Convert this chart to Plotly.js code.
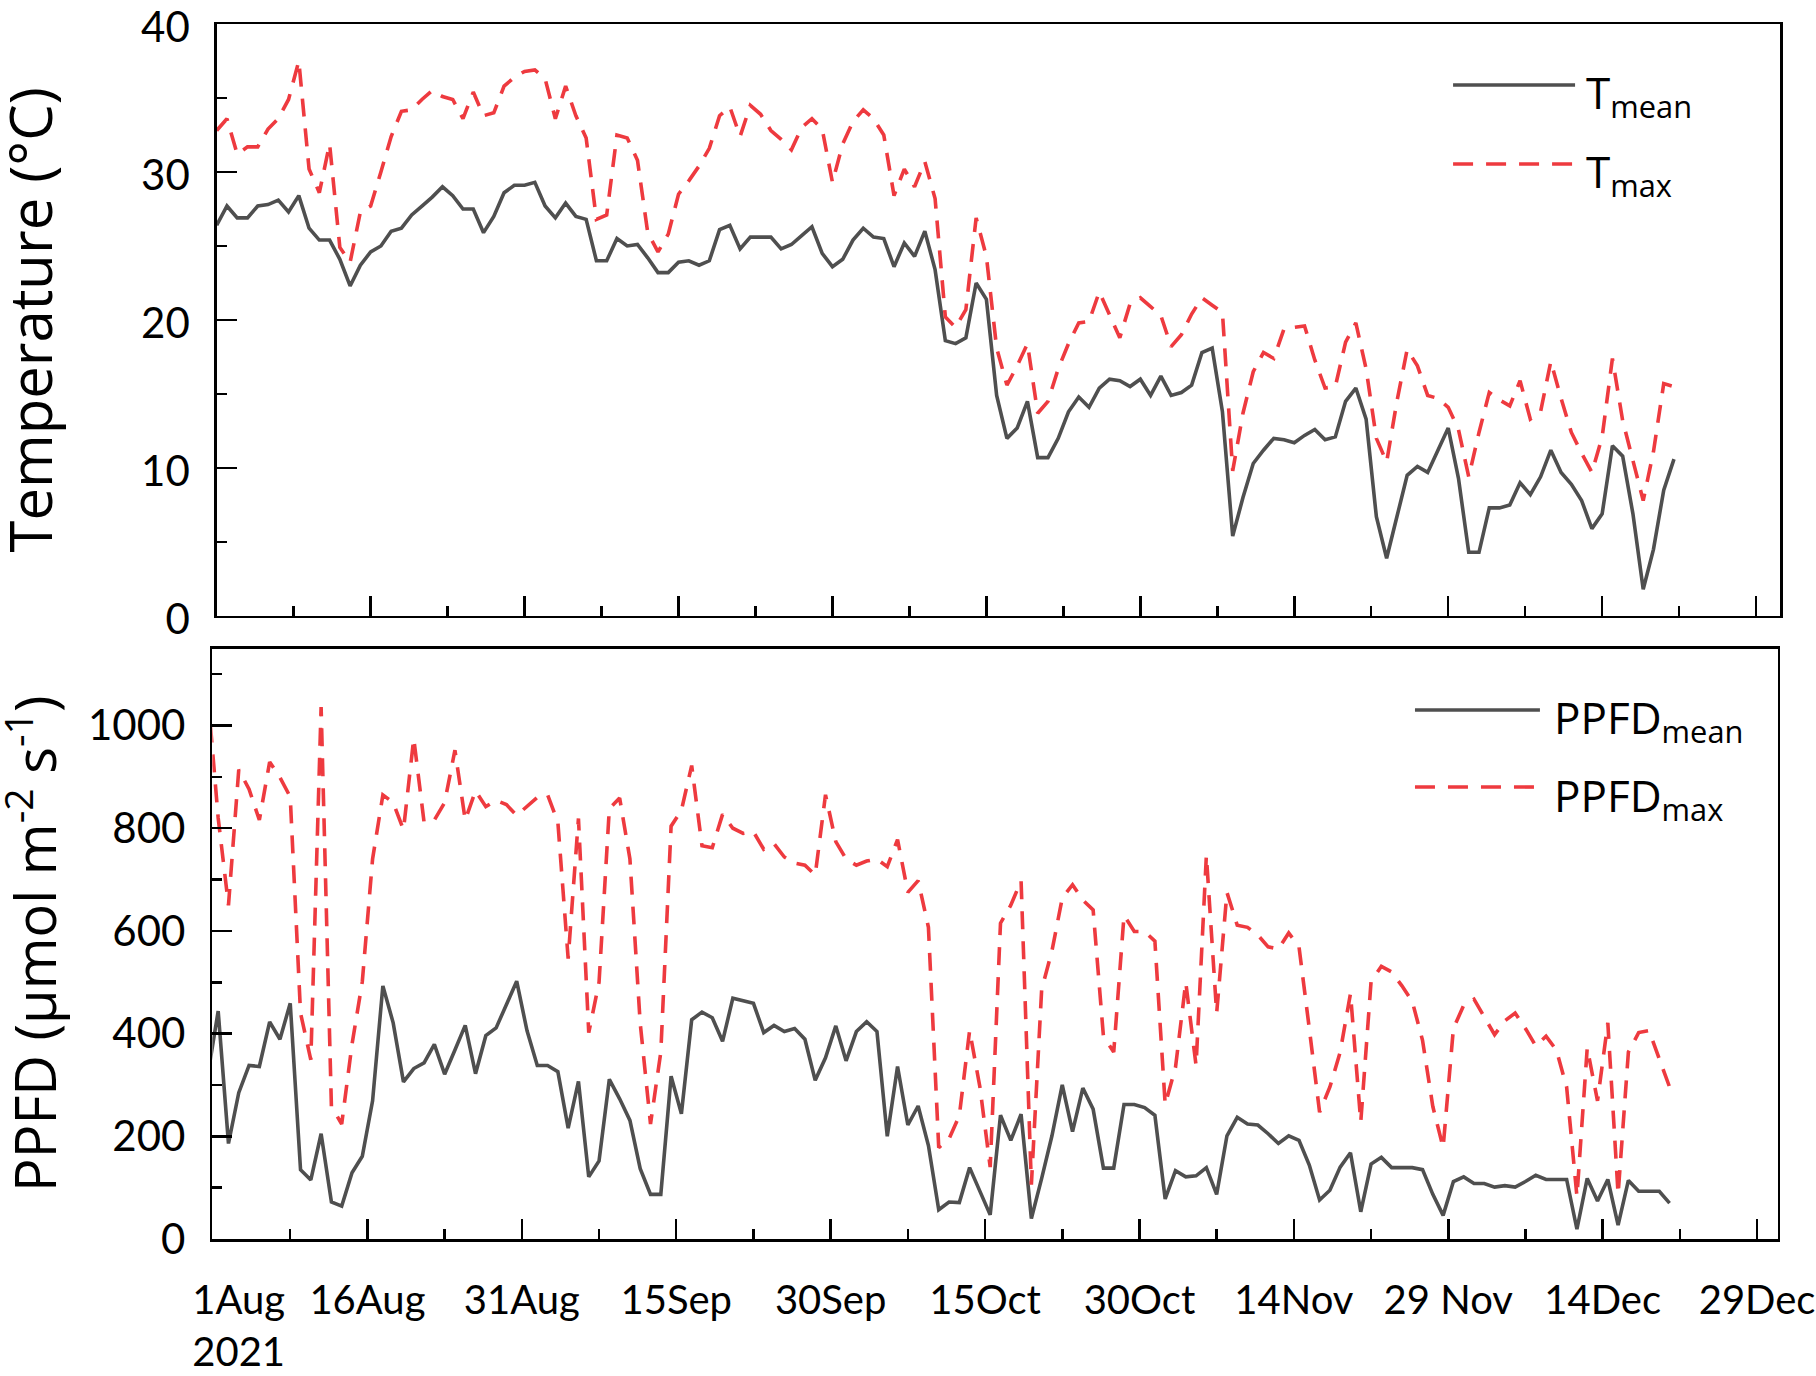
<!DOCTYPE html>
<html><head><meta charset="utf-8">
<script src="https://cdn.plot.ly/plotly-3.0.1.min.js"></script>
<style>html,body{margin:0;padding:0;background:#fff}</style>
</head><body><div id="chart" style="width:1816px;height:1376px"></div>
<script>
// Daily series starting 1 Aug 2021
const startDate = '2021-08-01';

const tMean = [26.4,27.7,26.9,26.9,27.7,27.8,28.1,27.3,28.4,26.2,
25.4,25.4,24.1,22.3,23.7,24.6,25.0,26.0,26.2,27.1,
27.7,28.3,29.0,28.4,27.5,27.5,25.9,27.0,28.6,29.1,
29.1,29.3,27.7,26.9,27.9,27.0,26.8,24.0,24.0,25.5,
25.0,25.1,24.2,23.2,23.2,23.9,24.0,23.7,24.0,26.1,
26.4,24.8,25.6,25.6,25.6,24.8,25.1,25.7,26.3,24.5,
23.6,24.1,25.4,26.2,25.6,25.5,23.6,25.2,24.3,26.0,
23.4,18.6,18.4,18.8,22.5,21.4,14.9,12.0,12.7,14.5,
10.7,10.7,12.0,13.8,14.8,14.1,15.4,16.0,15.9,15.5,
16.0,14.9,16.2,14.9,15.1,15.6,17.8,18.1,13.8,5.4,
8.0,10.3,11.2,12.0,11.9,11.7,12.2,12.6,11.9,12.1,
14.5,15.4,13.3,6.7,3.9,6.7,9.5,10.1,9.7,11.2,
12.7,9.3,4.3,4.3,7.3,7.3,7.5,9.0,8.2,9.4,
11.2,9.7,8.9,7.8,5.9,6.9,11.5,10.8,6.9,1.8,
4.5,8.5,10.6];

const tMax = [32.8,33.6,31.2,31.7,31.7,32.9,33.6,34.9,37.5,30.2,
28.6,31.9,24.9,23.9,27.3,27.7,30.0,32.4,34.1,34.2,
34.9,35.5,35.1,34.9,33.6,35.4,33.8,34.0,35.8,36.4,
36.8,36.9,36.3,33.6,35.8,33.8,32.3,26.8,27.1,32.5,
32.3,30.8,25.9,24.6,25.8,28.5,29.4,30.4,31.6,33.8,
34.4,32.4,34.5,33.9,32.8,32.2,31.5,33.0,33.6,32.9,
29.3,31.9,33.4,34.2,33.6,32.5,28.4,30.2,29.0,30.7,
28.2,20.2,19.5,20.7,26.9,24.3,18.1,15.6,16.9,18.4,
13.7,14.5,16.7,18.4,19.8,19.9,21.9,20.3,18.8,21.1,
21.5,20.9,20.3,18.2,19.0,20.4,21.5,21.0,20.5,9.8,
13.7,16.5,17.8,17.4,19.4,19.5,19.6,17.3,15.4,15.5,
18.5,19.8,16.7,12.0,10.4,14.5,18.0,16.9,14.9,14.7,
14.1,12.6,9.4,12.4,15.1,14.6,14.2,15.9,13.3,13.8,
17.2,14.7,12.4,11.0,9.7,12.1,17.4,13.2,10.6,7.8,
11.1,15.7,15.5];

// PPFD values are plotted at mid-day; first value (31 Jul) is only partly visible
const ppfdMean = [320,
444,186,285,338,336,423,389,459,135,115,
205,72,64,129,161,269,493,421,306,332,
343,379,321,368,416,322,396,411,455,502,
406,338,338,326,216,307,121,152,311,273,
231,137,87,87,317,244,427,442,431,385,
469,464,459,402,416,404,410,389,309,353,
415,347,404,423,404,200,336,222,259,182,
57,72,71,139,93,47,241,192,243,40,
118,201,300,209,294,253,138,138,262,262,
256,241,78,133,121,123,139,87,201,237,
224,222,205,186,201,192,144,76,95,140,
168,53,146,159,139,139,139,135,87,46,
112,121,108,108,101,104,101,112,124,116,
116,116,19,118,74,116,27,114,93,93,
93,70];

const ppfdMax = [1060,
820,650,914,876,816,929,899,861,440,349,
1036,258,224,379,501,740,865,850,797,975,
812,816,850,952,816,873,842,854,846,825,
842,860,865,812,546,819,402,500,838,859,
740,420,224,364,804,835,922,766,762,827,
800,790,793,759,770,744,732,728,709,865,
774,740,728,736,740,725,778,675,698,607,
178,195,240,406,296,140,615,650,698,106,
486,561,664,690,660,641,395,364,630,599,
599,580,262,334,500,338,747,440,675,611,
607,592,569,565,596,569,410,247,296,364,
478,228,501,531,520,493,463,387,258,178,
410,455,467,432,398,425,440,410,376,395,
368,296,83,372,269,421,87,364,402,406,
349,296];

const NB = '\u00a0';
const tickDays = [0,15,30,45,60,75,90,105,120,135,150];
const tickLabels = [NB.repeat(5) + '1Aug<br>' + NB.repeat(5) + '2021','16Aug','31Aug','15Sep','30Sep','15Oct','30Oct','14Nov','29 Nov','14Dec','29Dec'];
const minorDays = [7.5,22.5,37.5,52.5,67.5,82.5,97.5,112.5,127.5,142.5];
const tempTicks = [0,10,20,30,40];
const tempMinor = [5,15,25,35];
const ppfdTicks = [0,200,400,600,800,1000];
const ppfdMinor = [100,300,500,700,900,1100];
const tempTitle = 'Temperature (°C)';
const ppfdTitle = 'PPFD (µmol m<sup>-2</sup> s<sup>-1</sup>)';

function dayDate(d) {
  const base = Date.parse(startDate + 'T00:00:00Z');
  return new Date(base + d * 864e5).toISOString().replace('T',' ').slice(0,19);
}
const tDates = tMean.map((_, i) => dayDate(i));
const pDates = ppfdMean.map((_, i) => dayDate(i - 0.5));

const GRAY = '#4f4f4f', RED = '#ee3a3f';
const tickFont = {family: 'Lato', size: 42, color: '#000'};
const xTickFont = {family: 'Lato', size: 40, color: '#000'};
const titleFont = {family: 'Open Sans', size: 58, color: '#000'};
const title2Font = {family: 'Open Sans', size: 56, color: '#000'};
const legFont = {family: 'Open Sans', size: 44, color: '#000'};

const traces = [
  {x: tDates, y: tMean, type: 'scatter', mode: 'lines', name: 'T<sub>mean</sub>',
   line: {color: GRAY, width: 3.6}, xaxis: 'x', yaxis: 'y'},
  {x: tDates, y: tMax, type: 'scatter', mode: 'lines', name: 'T<sub>max</sub>',
   line: {color: RED, width: 3.6, dash: '18px,12px'}, xaxis: 'x', yaxis: 'y'},
  {x: pDates, y: ppfdMean, type: 'scatter', mode: 'lines', name: 'PPFD<sub>mean</sub>',
   line: {color: GRAY, width: 3.6}, xaxis: 'x2', yaxis: 'y2'},
  {x: pDates, y: ppfdMax, type: 'scatter', mode: 'lines', name: 'PPFD<sub>max</sub>',
   line: {color: RED, width: 3.6, dash: '18px,12px'}, xaxis: 'x2', yaxis: 'y2'}
];

const axCommon = {
  showline: true, mirror: true, linecolor: '#000', linewidth: 2.5,
  showgrid: false, zeroline: false, ticks: 'inside', tickcolor: '#000',
  tickwidth: 2.5, tickfont: tickFont, ticklabeloverflow: 'allow'
};

const xCommon = Object.assign({}, axCommon, {
  type: 'date', tickmode: 'array', tickfont: xTickFont,
  tickvals: tickDays.map(dayDate), ticktext: tickLabels, ticklen: 20,
  minor: {tickmode: 'array', tickvals: minorDays.map(dayDate), ticks: 'inside', ticklen: 10, tickwidth: 2.5, tickcolor: '#000', showgrid: false}
});

const layout = {
  width: 1816, height: 1376,
  margin: {l: 212, r: 36, t: 24, b: 137},
  paper_bgcolor: '#fff', plot_bgcolor: '#fff',
  showlegend: false,
  xaxis: Object.assign({}, xCommon, {
    domain: [0.003, 1], anchor: 'y', showticklabels: false,
    range: [dayDate(0), dayDate(152.33)]
  }),
  yaxis: Object.assign({}, axCommon, {
    domain: [0.5128, 1], anchor: 'x', range: [0, 40],
    tickmode: 'array', tickvals: tempTicks, ticklen: 20, ticklabelstandoff: 16, ticklabelshift: 3,
    minor: {tickmode: 'array', tickvals: tempMinor, ticks: 'inside', ticklen: 10, tickwidth: 2.5, tickcolor: '#000', showgrid: false}
  }),
  xaxis2: Object.assign({}, xCommon, {
    domain: [0.0002, 0.9987], anchor: 'y2', showticklabels: true,
    range: [dayDate(-0.07), dayDate(152.03)], ticklabelstandoff: 24
  }),
  yaxis2: Object.assign({}, axCommon, {
    domain: [0, 0.486], anchor: 'x2', range: [0, 1150],
    tickmode: 'array', tickvals: ppfdTicks, ticklen: 20, ticklabelstandoff: 16,
    minor: {tickmode: 'array', tickvals: ppfdMinor, ticks: 'inside', ticklen: 10, tickwidth: 2.5, tickcolor: '#000', showgrid: false}
  }),
  shapes: [
    {type: 'line', xref: 'paper', yref: 'paper', x0: 0.7915, x1: 0.8693, y0: 0.9498, y1: 0.9498, line: {color: GRAY, width: 3.6}},
    {type: 'line', xref: 'paper', yref: 'paper', x0: 0.7915, x1: 0.8693, y0: 0.8848, y1: 0.8848, line: {color: RED, width: 3.6, dash: '20px,13px'}},
    {type: 'line', xref: 'paper', yref: 'paper', x0: 0.7672, x1: 0.8469, y0: 0.4354, y1: 0.4354, line: {color: GRAY, width: 3.6}},
    {type: 'line', xref: 'paper', yref: 'paper', x0: 0.7672, x1: 0.8469, y0: 0.3720, y1: 0.3720, line: {color: RED, width: 3.6, dash: '20px,13px'}}
  ],
  annotations: [
    {xref: 'paper', yref: 'paper', x: -0.0899, y: 0.7564, xanchor: 'right', yanchor: 'middle', textangle: -90, showarrow: false, text: tempTitle, font: titleFont},
    {xref: 'paper', yref: 'paper', x: -0.0874, y: 0.2428, xanchor: 'right', yanchor: 'middle', textangle: -90, showarrow: false, text: ppfdTitle, font: title2Font},
    {xref: 'paper', yref: 'paper', x: 0.875, y: 0.9498, xanchor: 'left', yanchor: 'middle', yshift: -10, showarrow: false, text: traces[0].name, font: legFont},
    {xref: 'paper', yref: 'paper', x: 0.875, y: 0.8848, xanchor: 'left', yanchor: 'middle', yshift: -10, showarrow: false, text: traces[1].name, font: legFont},
    {xref: 'paper', yref: 'paper', x: 0.8546, y: 0.4354, xanchor: 'left', yanchor: 'middle', yshift: -10, showarrow: false, text: traces[2].name, font: legFont},
    {xref: 'paper', yref: 'paper', x: 0.8546, y: 0.3720, xanchor: 'left', yanchor: 'middle', yshift: -10, showarrow: false, text: traces[3].name, font: legFont}
  ]
};

Plotly.newPlot('chart', traces, layout, {staticPlot: true, displayModeBar: false});
</script>
</body></html>
